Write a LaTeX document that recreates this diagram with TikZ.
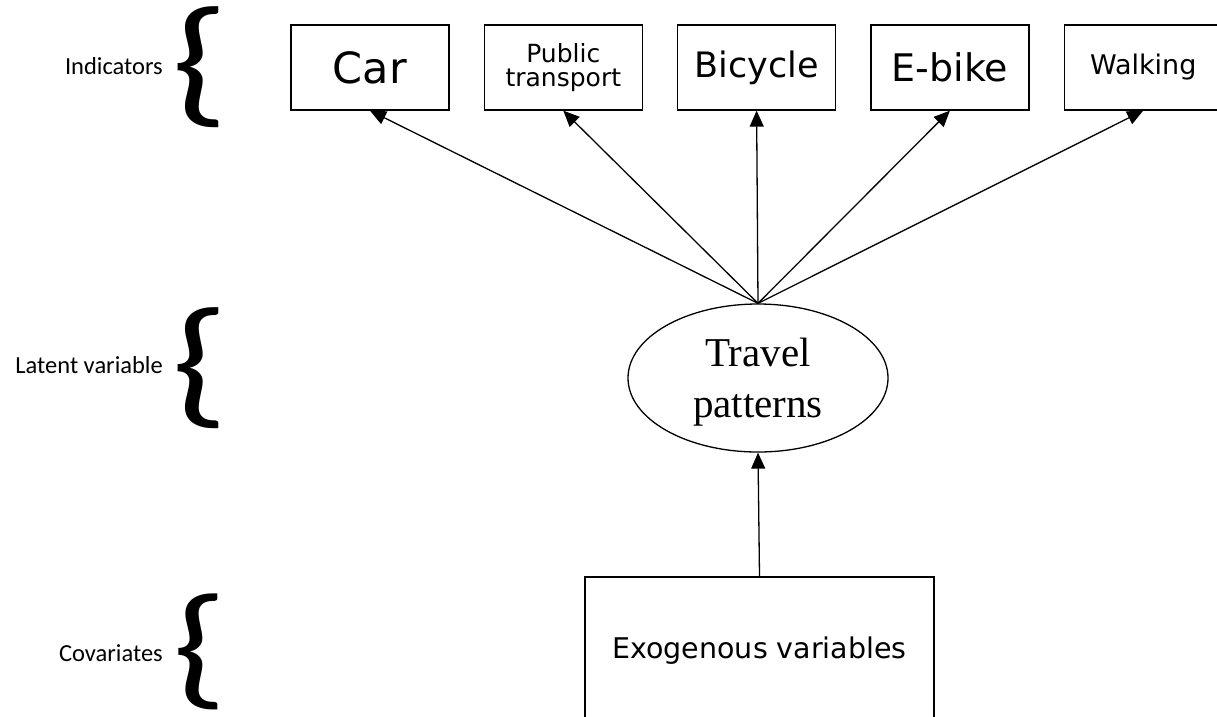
\documentclass[tikz,border=0pt]{standalone}
\usepackage{fontspec}
\usepackage{graphicx}
\newfontfamily\boxfont{DejaVu Sans}
\newfontfamily\labelfont{Carlito}
\newfontfamily\latentfont{Liberation Serif}
\usetikzlibrary{arrows.meta,positioning,shapes.geometric}

\begin{document}
\begin{tikzpicture}[x=1pt, y=-1pt, node distance=34pt,
box/.style={draw, line width=1.3pt, minimum width=158pt, minimum height=85pt, inner sep=0pt, align=center, font=\boxfont},
latent/.style={draw, ellipse, line width=1.3pt, minimum width=260pt, minimum height=148pt, inner sep=0pt, align=center, text depth=0pt},
level/.style={anchor=east, inner sep=0pt, font=\labelfont\fontsize{24.5}{29}\selectfont},
brace/.style={inner sep=0pt},
arrow/.style={-{Triangle[length=16pt,width=14pt]}, line width=1.3pt}]
\useasboundingbox (0,0) rectangle (1217,716);
% indicators
\node[box, font=\boxfont\fontsize{43}{50}\selectfont] (car) at (370,67.5) {Car};
\node[box, right=of car, font=\boxfont\fontsize{25}{24}\selectfont] (public) {Public\\transport};
\node[box, right=of public, font=\boxfont\fontsize{35}{42}\selectfont] (bicycle) {Bicycle};
\node[box, right=of bicycle, font=\boxfont\fontsize{38}{45}\selectfont] (ebike) {E-bike};
\node[box, right=of ebike, font=\boxfont\fontsize{27}{32}\selectfont] (walking) {Walking};
% latent variable and covariates
\node[latent, font=\latentfont\fontsize{41}{51}\selectfont] (travel) at (758,378) {Travel\\patterns};
\node[box, minimum width=349pt, minimum height=142pt, text depth=0pt, font=\boxfont\fontsize{28.5}{34}\selectfont] (exo) at (759.5,648) {Exogenous variables};
% levels
\node[level] (indlab) at (163,66) {Indicators};
\node[level] (latlab) at (163,365) {Latent variable};
\node[level] (covlab) at (163,653) {Covariates};
\node[brace] (indbrace) at (200,67.5) {\scalebox{1.3}[1]{\resizebox*{!}{121pt}{\labelfont\{}}};
\node[brace] (latbrace) at (200,368) {\scalebox{1.3}[1]{\resizebox*{!}{121pt}{\labelfont\{}}};
\node[brace] (covbrace) at (200,652) {\scalebox{1.3}[1]{\resizebox*{!}{116pt}{\labelfont\{}}};
% arrows
\draw[arrow] (travel.north) -- (car.south);
\draw[arrow] (travel.north) -- (public.south);
\draw[arrow] (travel.north) -- (bicycle.south);
\draw[arrow] (travel.north) -- (ebike.south);
\draw[arrow] (travel.north) -- (walking.south);
\draw[arrow] (exo.north) -- (travel.south);
\end{tikzpicture}
\end{document}
